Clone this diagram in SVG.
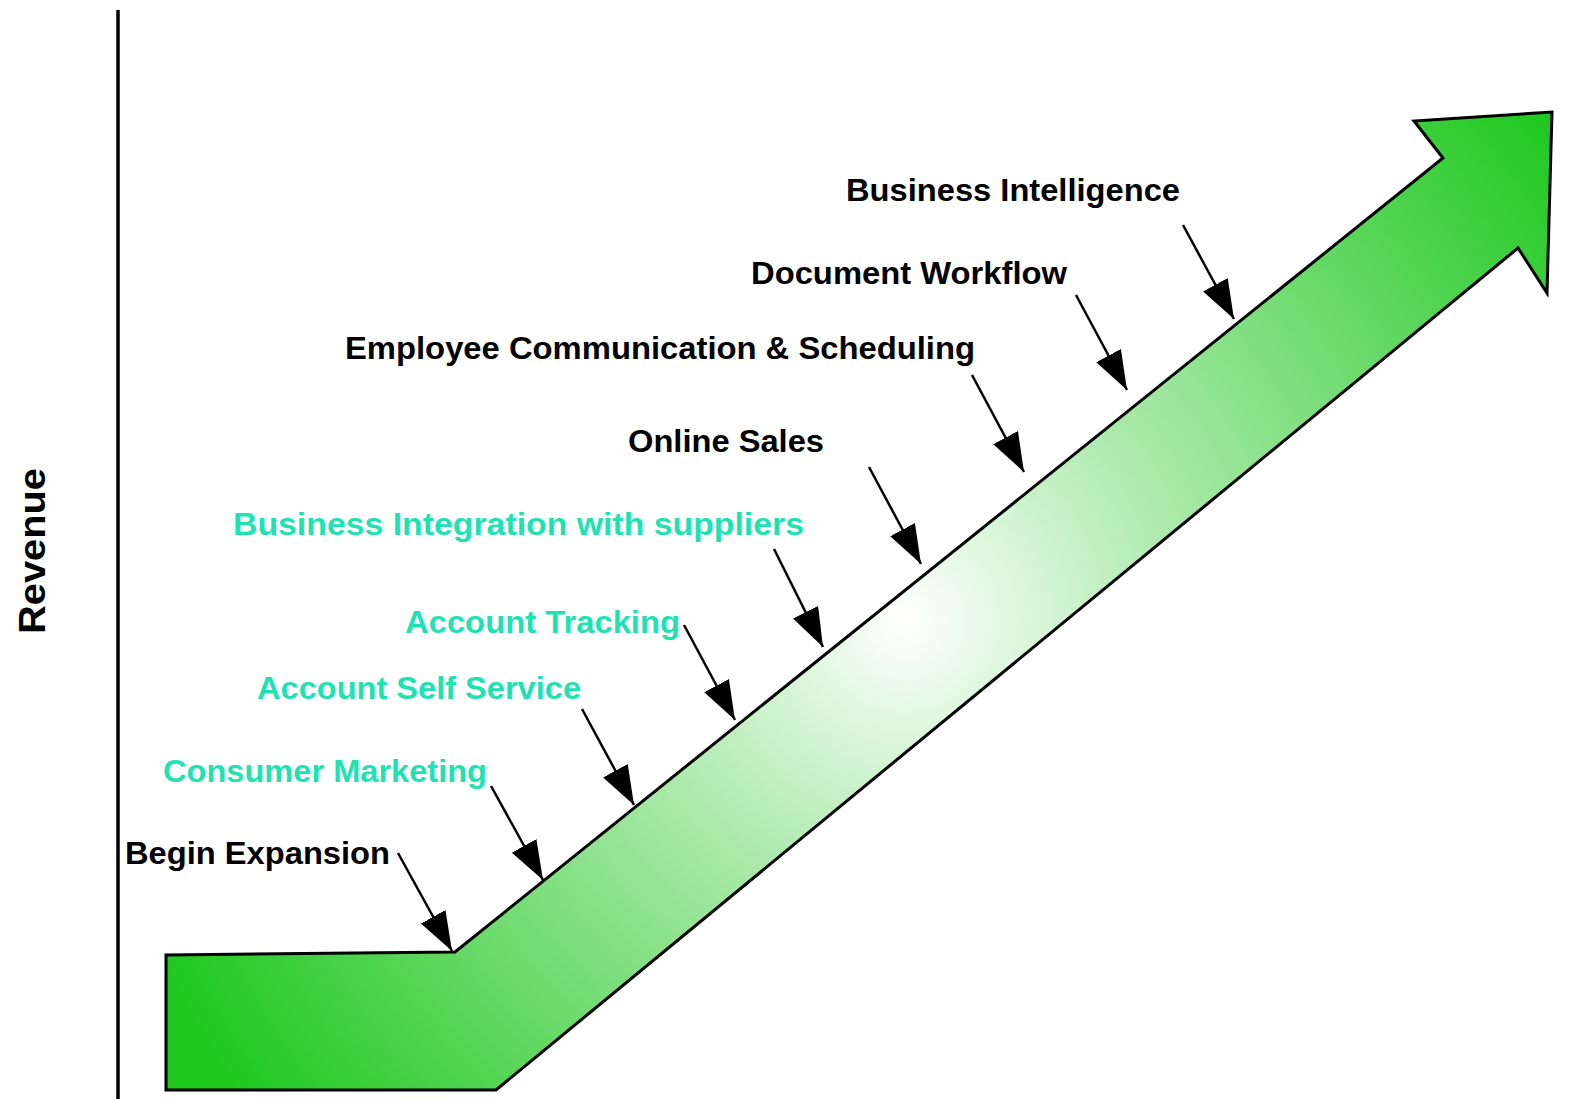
<svg xmlns="http://www.w3.org/2000/svg" width="1572" height="1099" viewBox="0 0 1572 1099">
<style>
.lbl{font-family:"Liberation Sans",Arial,sans-serif;font-weight:bold;font-size:32px;fill:#000}
.cy{fill:#1ee2b2}
.conn{stroke:#000;stroke-width:2.5;fill:none}
</style>
<defs>
<radialGradient id="g" gradientUnits="userSpaceOnUse" cx="905" cy="620" r="820">
<stop offset="0" stop-color="#ffffff"/>
<stop offset="0.33" stop-color="#aeeaae"/>
<stop offset="1" stop-color="#1ec81e"/>
</radialGradient>
<marker id="ah" markerUnits="userSpaceOnUse" markerWidth="42" markerHeight="30" refX="39" refY="14" orient="auto">
<path d="M0,0 L39,14 L0,28 z" fill="#000"/>
</marker>
</defs>
<g id="axis">
<line x1="118" y1="10" x2="118" y2="1099" stroke="#000" stroke-width="3.5"/>
<text class="lbl" style="font-size:36px" textLength="166" lengthAdjust="spacingAndGlyphs" transform="translate(45,634) rotate(-90)">Revenue</text>
</g>
<g id="growth-arrow">
<polygon points="166,955 455,952 1443,158 1414,121 1552,112 1547,293 1518,248 496,1090 166,1090" fill="url(#g)" stroke="#000" stroke-width="3" stroke-linejoin="miter"/>
</g>
<g id="n-begin"><text class="lbl" x="125" y="864" textLength="265" lengthAdjust="spacingAndGlyphs">Begin Expansion</text></g>
<g id="n-consumer"><text class="lbl cy" x="163" y="782" textLength="324" lengthAdjust="spacingAndGlyphs">Consumer Marketing</text></g>
<g id="n-selfservice"><text class="lbl cy" x="257" y="699" textLength="324" lengthAdjust="spacingAndGlyphs">Account Self Service</text></g>
<g id="n-tracking"><text class="lbl cy" x="405" y="633" textLength="275" lengthAdjust="spacingAndGlyphs">Account Tracking</text></g>
<g id="n-integration"><text class="lbl cy" x="233" y="535" textLength="571" lengthAdjust="spacingAndGlyphs">Business Integration with suppliers</text></g>
<g id="n-online"><text class="lbl" x="628" y="452" textLength="196" lengthAdjust="spacingAndGlyphs">Online Sales</text></g>
<g id="n-employee"><text class="lbl" x="345" y="359" textLength="630" lengthAdjust="spacingAndGlyphs">Employee Communication &amp; Scheduling</text></g>
<g id="n-document"><text class="lbl" x="751" y="284" textLength="316" lengthAdjust="spacingAndGlyphs">Document Workflow</text></g>
<g id="n-bi"><text class="lbl" x="846" y="201" textLength="334" lengthAdjust="spacingAndGlyphs">Business Intelligence</text></g>
<g id="connectors">
<line class="conn" x1="398" y1="853" x2="452" y2="951" marker-end="url(#ah)"/>
<line class="conn" x1="491" y1="786" x2="543" y2="880" marker-end="url(#ah)"/>
<line class="conn" x1="582" y1="709" x2="634" y2="805" marker-end="url(#ah)"/>
<line class="conn" x1="684" y1="625" x2="735" y2="720" marker-end="url(#ah)"/>
<line class="conn" x1="774" y1="549" x2="823" y2="647" marker-end="url(#ah)"/>
<line class="conn" x1="869" y1="467" x2="921" y2="564" marker-end="url(#ah)"/>
<line class="conn" x1="972" y1="375" x2="1024" y2="472" marker-end="url(#ah)"/>
<line class="conn" x1="1076" y1="295" x2="1127" y2="390" marker-end="url(#ah)"/>
<line class="conn" x1="1183" y1="225" x2="1234" y2="319" marker-end="url(#ah)"/>
</g>
</svg>
